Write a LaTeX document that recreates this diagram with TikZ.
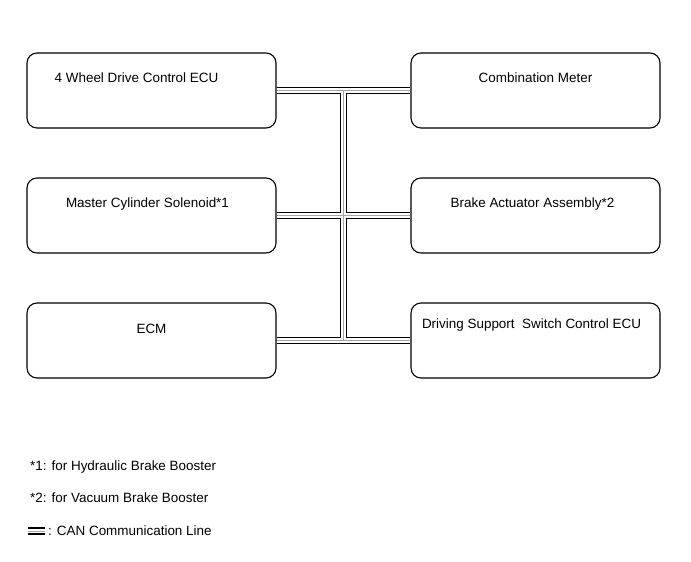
\documentclass[tikz,border=0pt]{standalone}
\usepackage{fontspec}
\setmainfont{Liberation Sans}
\usepackage{tikz}
\usetikzlibrary{positioning, calc}

\begin{document}
\begin{tikzpicture}[x=1bp, y=-1bp, node distance=125bp,
    font=\fontsize{13.5}{16}\selectfont,
    unitbox/.style={rectangle, draw, rounded corners=10bp, line width=1.1bp, minimum width=249bp, minimum height=75bp, inner sep=0pt},
    canline/.style={draw=black, line width=1.4bp, double=white, double distance=4.6bp},
    cancore/.style={draw=black!35, line width=0.5bp},
    note/.style={anchor=west, inner sep=0pt}]
    \useasboundingbox (0,0) rectangle (691,562);

    \node[unitbox] (fwd) at (151.5,90.5) {};
    \node[unitbox, right of=fwd, node distance=384bp] (meter) {};
    \node[unitbox, below of=fwd] (solenoid) {};
    \node[unitbox, below of=meter] (actuator) {};
    \node[unitbox, below of=solenoid] (ecm) {};
    \node[unitbox, below of=actuator] (drivesw) {};

    \node[above of=fwd, node distance=12.5bp, xshift=-15bp] (fwdtext) {4 Wheel Drive Control ECU};
    \node[above of=meter, node distance=12.5bp] (metertext) {Combination Meter};
    \node[above of=solenoid, node distance=11.5bp, xshift=-4bp] (solenoidtext) {Master Cylinder Solenoid*1};
    \node[above of=actuator, node distance=11.5bp, xshift=-3bp] (actuatortext) {Brake Actuator Assembly*2};
    \node[above of=ecm, node distance=11.5bp] (ecmtext) {ECM};
    \node[above of=drivesw, node distance=15.5bp, xshift=-4bp] (driveswtext) {Driving Support~ Switch Control ECU};

    % CAN bus
    \coordinate (bustop) at ($(fwd.east)!.5!(meter.west)$);
    \coordinate (busend) at ($(ecm.east)!.5!(drivesw.west)$);
    \draw[canline] (fwd.east) -- (meter.west) (solenoid.east) -- (actuator.west)
        (ecm.east) -- (drivesw.west) (bustop) -- (busend);
    \draw[cancore] (fwd.east) -- (meter.west) (solenoid.east) -- (actuator.west)
        (ecm.east) -- (drivesw.west) (bustop) -- (busend);

    % legend
    \node[note] (note1) at (30,467) {*1: for Hydraulic Brake Booster};
    \node[note] (note2) at (30,498) {*2: for Vacuum Brake Booster};
    \coordinate (keyl) at (28,531);
    \coordinate (keyr) at (45,531);
    \draw[canline] (keyl) -- (keyr);
    \draw[cancore] (keyl) -- (keyr);
    \node[note, right=3bp of keyr] (note3) {: CAN Communication Line};
\end{tikzpicture}
\end{document}
